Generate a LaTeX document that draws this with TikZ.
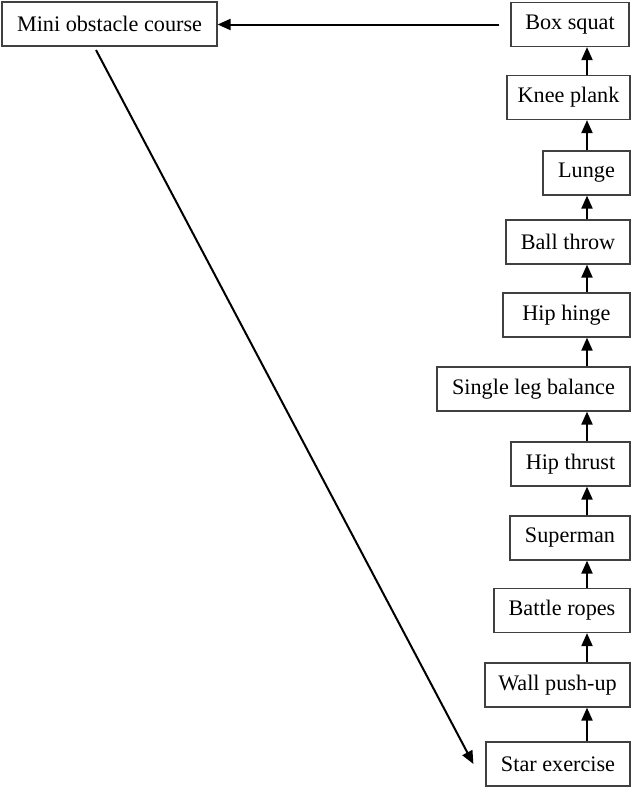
\documentclass[tikz,border=0pt]{standalone}
\usepackage{fontspec}
\setmainfont{Liberation Serif}
\usetikzlibrary{arrows.meta}
\begin{document}
\begin{tikzpicture}[x=1pt,y=-1pt,
  stepbox/.style={draw=black!75, line width=1.2pt, inner sep=0pt, minimum height=44pt,
    font=\fontsize{22.2}{26}\selectfont, anchor=center},
  arr/.style={line width=2pt, -{Triangle[length=13pt,width=11pt]}}]
\useasboundingbox (0,0) rectangle (633,788);
\node[stepbox, minimum width=215pt] (mini) at (109.5,24) {Mini obstacle course};
\node[stepbox, minimum width=118pt] (boxsq) at (570,24.5) {Box squat};
\node[stepbox, minimum width=123pt] (knee) at (568.5,97.5) {Knee plank};
\node[stepbox, minimum width=87pt] (lunge) at (586.5,173) {Lunge};
\node[stepbox, minimum width=124pt] (ball) at (568,242) {Ball throw};
\node[stepbox, minimum width=127pt] (hinge) at (566.5,315) {Hip hinge};
\node[stepbox, minimum width=193pt] (slb) at (533.5,389) {Single leg balance};
\node[stepbox, minimum width=119pt] (thrust) at (570.5,464) {Hip thrust};
\node[stepbox, minimum width=120pt] (super) at (570,538) {Superman};
\node[stepbox, minimum width=136pt] (ropes) at (562,610.5) {Battle ropes};
\node[stepbox, minimum width=145pt] (wall) at (557.5,685) {Wall push-up};
\node[stepbox, minimum width=144pt] (star) at (558,764) {Star exercise};
\coordinate (colx) at (587,0);
\coordinate (hstart) at ([xshift=-11pt]boxsq.west);
\coordinate (dstart) at (96,50);
\coordinate (dend) at ([xshift=-12pt]star.west);
\draw[arr] (star.north -| colx) -- (wall.south -| colx);
\draw[arr] (wall.north -| colx) -- (ropes.south -| colx);
\draw[arr] (ropes.north -| colx) -- (super.south -| colx);
\draw[arr] (super.north -| colx) -- (thrust.south -| colx);
\draw[arr] (thrust.north -| colx) -- (slb.south -| colx);
\draw[arr] (slb.north -| colx) -- (hinge.south -| colx);
\draw[arr] (hinge.north -| colx) -- (ball.south -| colx);
\draw[arr] (ball.north -| colx) -- (lunge.south -| colx);
\draw[arr] (lunge.north -| colx) -- (knee.south -| colx);
\draw[arr] (knee.north -| colx) -- (boxsq.south -| colx);
\draw[arr] (hstart) -- (mini.east |- hstart);
\draw[arr] (dstart) -- (dend);
\end{tikzpicture}
\end{document}
